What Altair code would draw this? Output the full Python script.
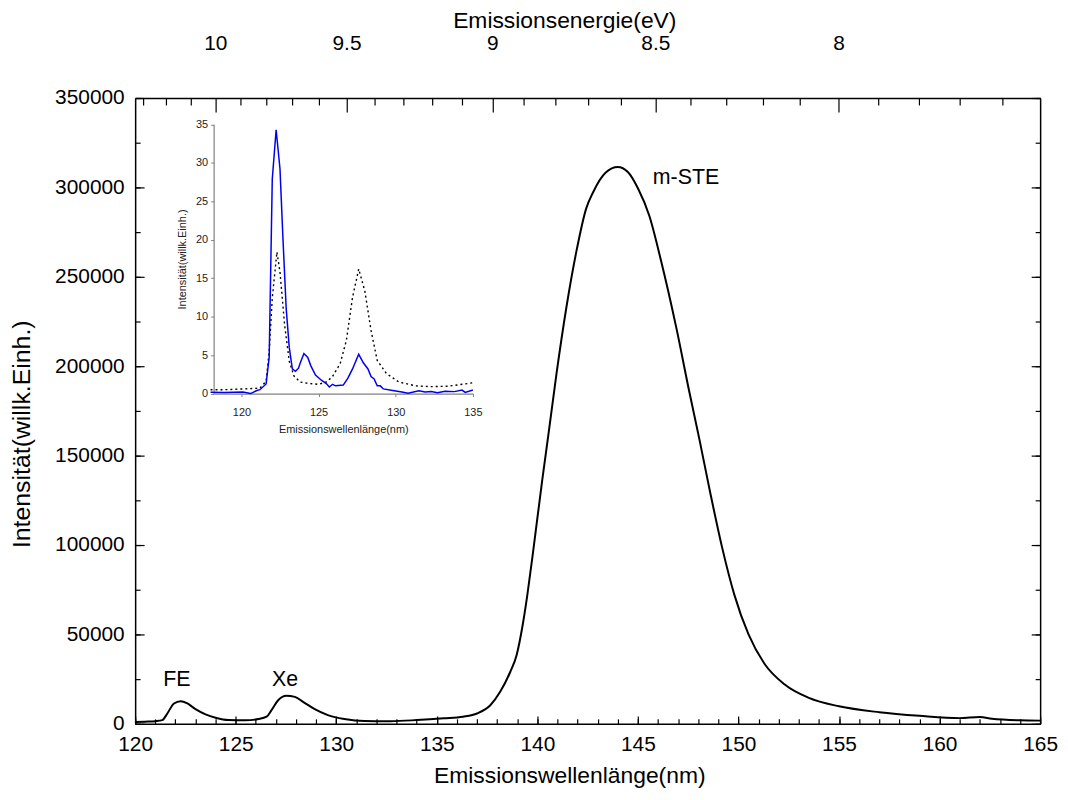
import altair as alt
import pandas as pd

W, H = 911, 630
FONT = "Liberation Sans"
HC = 1239.84

# ---------------- data ----------------
main_wl = [120.0, 120.5, 121.0, 121.35, 121.6, 121.93, 122.26, 122.6, 123.0, 123.5, 124.0, 124.64,
           125.47, 126.13, 126.54, 126.78, 127.11, 127.52, 127.94, 128.35, 128.93, 129.58, 130.4,
           131.4, 132.7, 134.0, 135.35, 136.3, 137.0, 137.66, 138.15, 138.65, 138.97, 139.25, 139.5,
           139.75, 140.0, 140.25,
           140.54, 140.95, 141.44, 141.94, 142.43, 142.76, 143.4, 144.0, 144.5, 145.0, 145.57, 146.15,
           146.9, 147.55, 148.05, 148.6, 149.2, 149.8, 150.5, 151.3, 152.3, 153.5, 155.0, 157.0,
           159.0, 161.0, 162.0, 162.6, 164.0, 165.0]
main_int = [1000, 1200, 1500, 2100, 5800, 11400, 12700, 11400, 8200, 5300, 3400, 2100,
            2000, 2700, 4000, 7700, 13200, 15700, 15100, 12300, 8200, 4900, 2700,
            1550, 1500, 2100, 3100, 4000, 5800, 10400, 17900, 29000, 38500, 54000, 72000,
            93000, 115000, 137000,
            161000, 195700, 232700, 264200, 288300, 297000, 308300, 311400, 308600, 299500, 284000, 259000,
            222000, 186000, 159500, 129000, 98000, 72000, 50000, 33500, 22000, 14500, 9800, 6500,
            4500, 3200, 3800, 2900, 2000, 1800]

blue_wl = [118.0, 118.9, 120.1, 120.6, 121.0, 121.2, 121.6, 121.8, 122.0, 122.25, 122.5, 122.7, 122.9,
           123.1, 123.3, 123.5, 123.7, 123.8, 124.05, 124.3, 124.5, 124.8, 125.2, 125.5, 125.7, 125.9,
           126.1, 126.6, 126.9, 127.2, 127.6, 127.9, 128.2, 128.4, 128.6, 128.8, 129.0, 129.2, 129.8,
           130.4, 130.8, 131.5, 131.9, 132.3, 132.7, 133.2, 133.8, 134.3, 134.5, 135.0]
blue_int = [0.17, 0.15, 0.2, 0.0, 0.4, 0.5, 1.25, 4.7, 27.9, 34.3, 29.2, 19.8, 11.1,
            6.0, 3.2, 2.9, 3.3, 3.9, 5.2, 4.7, 3.6, 2.4, 1.7, 1.3, 0.85, 1.2,
            1.0, 1.1, 2.0, 3.2, 5.1, 4.0, 3.2, 2.2, 1.9, 1.0, 1.0, 0.6, 0.4,
            0.2, 0.05, 0.35, 0.2, 0.25, 0.1, 0.3, 0.25, 0.45, 0.15, 0.45]

dot_wl = [118.0, 118.9, 120.1, 121.2, 121.6, 121.8, 122.0, 122.3, 122.5, 122.8, 123.1, 123.4, 123.8,
          124.4, 125.0, 125.5, 125.9, 126.4, 126.8, 127.2, 127.6, 128.0, 128.4, 128.8, 129.4, 130.2,
          131.3, 132.3, 133.4, 134.3, 135.0]
dot_int = [0.5, 0.5, 0.6, 0.7, 1.6, 5.5, 12.4, 18.4, 15.8, 8.9, 4.2, 2.3, 1.5,
           1.3, 1.2, 1.5, 2.2, 3.9, 6.9, 12.5, 16.2, 13.3, 8.2, 4.3, 2.6, 1.5,
           1.0, 0.9, 0.95, 1.2, 1.4]

bottom_major = [120, 125, 130, 135, 140, 145, 150, 155, 160, 165]
bottom_minor = list(range(120, 166))
left_major = [0, 50000, 100000, 150000, 200000, 250000, 300000, 350000]
left_minor = list(range(0, 350001, 25000))
energy_major = [10, 9.5, 9, 8.5, 8]
energy_minor = [10.3, 10.2, 10.1, 9.9, 9.8, 9.7, 9.6, 9.4, 9.3, 9.2, 9.1,
                8.9, 8.8, 8.7, 8.6, 8.4, 8.3, 8.2, 8.1, 7.9, 7.8, 7.7, 7.6]
inset_x_ticks = [120, 125, 130, 135]
inset_y_ticks = [0, 5, 10, 15, 20, 25, 30, 35]

ann_text = ["FE", "Xe", "m-STE"]
ann_wl = [122.07, 127.45, 145.74]
ann_int = [24700, 24700, 305300]
ann_align = ["center", "center", "left"]

main_df = pd.DataFrame({"wl": main_wl, "I": main_int})
blue_df = pd.DataFrame({"wl": blue_wl, "I": blue_int})
dot_df = pd.DataFrame({"wl": dot_wl, "I": dot_int})
ann_df = pd.DataFrame({"t": ann_text, "wl": ann_wl, "I": ann_int, "a": ann_align})

e_major_wl = [HC / e for e in energy_major]
e_minor_wl = [HC / e for e in energy_minor]


def xsc():
    return alt.Scale(domain=[120, 165], nice=False, zero=False)


def ysc():
    return alt.Scale(domain=[0, 350000], nice=False, zero=False)


def tick_axis(orient, offset, values, size):
    return alt.Axis(orient=orient, offset=offset, values=values, tickSize=size, tickWidth=1.2,
                    tickColor="black", labels=False, domain=False, grid=False, title=None)


common_label = dict(labelFont=FONT, labelFontSize=21, labelColor="black", titleFont=FONT,
                    titleFontSize=23, titleFontWeight="normal", titleColor="black", grid=False,
                    domainColor="black", domainWidth=1.5, labelFlush=False)
common_no_title_size = {k: v for k, v in common_label.items() if k != "titleFontSize"}

# main line with bottom + left labelled axes
main_line = alt.Chart(main_df).mark_line(color="black", strokeWidth=2, interpolate="monotone").encode(
    x=alt.X("wl:Q", scale=xsc(),
            axis=alt.Axis(orient="bottom", values=bottom_major, ticks=False, labelPadding=10,
                          title="Emissionswellenlänge(nm)", titlePadding=10, titleX=437,
                          **common_label)),
    y=alt.Y("I:Q", scale=ysc(),
            axis=alt.Axis(orient="left", values=left_major, ticks=False, format="d", labelPadding=11,
                          title="Intensität(willk.Einh.)", titlePadding=20, titleY=338,
                          titleFontSize=25, **common_no_title_size)),
)


def ghost(xaxis, yaxis):
    return alt.Chart(main_df).mark_line(opacity=0).encode(
        x=alt.X("wl:Q", scale=xsc(), axis=xaxis),
        y=alt.Y("I:Q", scale=ysc(), axis=yaxis),
    )


l2 = ghost(tick_axis("top", -H, bottom_major, 8), tick_axis("right", -W, left_major, 9))
l3 = ghost(tick_axis("top", -H, bottom_minor, 5), tick_axis("right", -W, left_minor, 5))
l4 = ghost(
    alt.Axis(orient="top", values=e_major_wl, ticks=False, labelPadding=45,
             labelExpr="format(1239.84/datum.value, '.2~f')",
             title="Emissionsenergie(eV)", titlePadding=0, titleX=432, **common_label),
    alt.Axis(orient="right", values=left_major, ticks=False, labels=False, domain=True,
             domainColor="black", domainWidth=1.5, grid=False, title=None),
)
l5 = ghost(tick_axis("bottom", -H, e_major_wl, 14), tick_axis("left", -W, left_major, 9))
l6 = ghost(tick_axis("bottom", -H, e_minor_wl, 7), tick_axis("left", -W, left_minor, 5))

ann_c = alt.Chart(ann_df[ann_df.a == "center"]).mark_text(font=FONT, fontSize=21.5, color="black",
                                                          baseline="middle", align="center").encode(
    x=alt.X("wl:Q", scale=xsc(), axis=None), y=alt.Y("I:Q", scale=ysc(), axis=None), text="t:N")
ann_l = alt.Chart(ann_df[ann_df.a == "left"]).mark_text(font=FONT, fontSize=21.5, color="black",
                                                        baseline="middle", align="left").encode(
    x=alt.X("wl:Q", scale=xsc(), axis=None), y=alt.Y("I:Q", scale=ysc(), axis=None), text="t:N")

# ---------------- inset ----------------
IX0, IX1 = 79, 340      # pixel range inside plot
IY0, IY1 = 297.5, 26.5


def ixs():
    return alt.Scale(domain=[118.2, 135], range=[IX0, IX1], nice=False, zero=False)


def iys():
    return alt.Scale(domain=[0, 35], range=[IY0, IY1], nice=False, zero=False)


inset_common = dict(labelFont=FONT, labelFontSize=11, labelColor="#222222", titleFont=FONT,
                    titleFontSize=11, titleFontWeight="normal", titleColor="#222222", grid=False,
                    domainColor="#808080", domainWidth=1.2, tickColor="#808080", tickSize=3,
                    labelFlush=False)

blue = alt.Chart(blue_df).mark_line(color="#0000ee", strokeWidth=1.5).encode(
    x=alt.X("wl:Q", scale=ixs(),
            axis=alt.Axis(orient="bottom", offset=-(H - IY0), values=inset_x_ticks, labelPadding=10,
                          title="Emissionswellenlänge(nm)", titlePadding=6, **inset_common)),
    y=alt.Y("I:Q", scale=iys(),
            axis=alt.Axis(orient="left", offset=-IX0, values=inset_y_ticks, labelPadding=3,
                          title="Intensität(willk.Einh.)", titlePadding=8, **inset_common)),
)
dots = alt.Chart(dot_df).mark_line(color="black", strokeWidth=1.4, strokeDash=[2, 3]).encode(
    x=alt.X("wl:Q", scale=ixs(), axis=None),
    y=alt.Y("I:Q", scale=iys(), axis=None),
)

chart = alt.layer(main_line, l2, l3, l4, l5, l6, ann_c, ann_l, dots, blue).resolve_scale(
    x="independent", y="independent"
).properties(
    width=W, height=H,
    background="white",
    autosize=alt.AutoSizeParams(type="none"),
    padding={"left": 128, "top": 88, "right": 20, "bottom": 66},
).configure_view(stroke=None)

chart.save("out.html", embed_options={"renderer": "svg", "actions": False})
